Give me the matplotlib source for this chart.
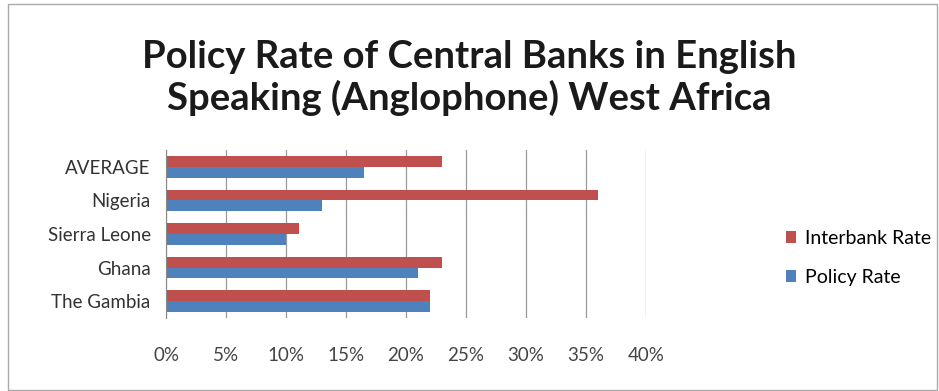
import matplotlib.pyplot as plt
import numpy as np

countries = ['The Gambia', 'Ghana', 'Sierra Leone', 'Nigeria', 'AVERAGE']
policy_rate = [22.0, 21.0, 10.0, 13.0, 16.5]
interbank_rate = [22.0, 23.0, 11.1, 36.0, 23.0]

plt.rcParams['font.family'] = ['Lato', 'DejaVu Sans']

fig = plt.figure(figsize=(9.39, 3.91), dpi=100)
ax = fig.add_axes([166 / 939, 1 - 318 / 391, 480 / 939, 168 / 391])

y = np.arange(len(countries))
h = 0.32
ax.barh(y - h / 2, np.array(policy_rate) / 100, height=h, color='#4F81BD', label='Policy Rate')
ax.barh(y + h / 2, np.array(interbank_rate) / 100, height=h, color='#C0504D', label='Interbank Rate')

ax.set_xlim(0, 0.40)
ax.set_ylim(-0.5, len(countries) - 0.5)
ax.set_xticks(np.arange(0, 0.41, 0.05))
ax.set_xticklabels(['%d%%' % v for v in range(0, 41, 5)], fontsize=13.5, color='#444444')
ax.set_yticks(y)
ax.set_yticklabels(countries, fontsize=13.5, color='#333333')
ax.tick_params(length=0, pad=21, axis='x')
ax.tick_params(length=0, pad=11, axis='y')
ax.xaxis.grid(True, color='#999999', linewidth=0.9)
ax.set_axisbelow(True)
for s in ['top', 'right', 'bottom']:
    ax.spines[s].set_visible(False)
ax.spines['left'].set_color('#888888')

handles, labels = ax.get_legend_handles_labels()
fig.legend(handles[::-1], labels[::-1], loc='center left', bbox_to_anchor=(768 / 939, 1 - 258 / 391),
           frameon=False, fontsize=14, handlelength=0.55, handleheight=0.55, labelspacing=1.15,
           handletextpad=0.45)

fig.text(0.5, 1 - 78 / 391, 'Policy Rate of Central Banks in English\nSpeaking (Anglophone) West Africa',
         ha='center', va='center', fontsize=27.5, fontweight='bold', color='#1a1a1a', linespacing=1.2)

fig.patches.append(plt.Rectangle((8 / 939, 1 / 391), 929 / 939, 386 / 391, transform=fig.transFigure,
                                 fill=False, edgecolor='#aaaaaa', linewidth=1.0))

fig.savefig('out.png', dpi=100)
